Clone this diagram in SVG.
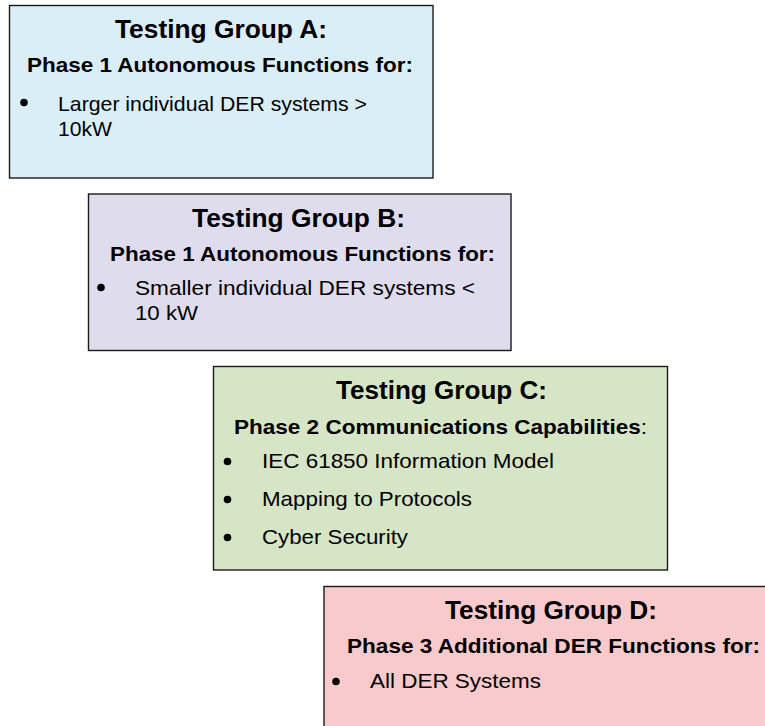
<svg xmlns="http://www.w3.org/2000/svg" width="765" height="726" viewBox="0 0 765 726">
  <style>
    .box { stroke: #1a1a1a; stroke-width: 1.4; }
    .title { font-family: "Liberation Sans", Arial, sans-serif; font-weight: bold; font-size: 25px; fill: #000; }
    .sub { font-family: "Liberation Sans", Arial, sans-serif; font-weight: bold; font-size: 20.5px; fill: #000; }
    .item { font-family: "Liberation Sans", Arial, sans-serif; font-size: 21px; fill: #000; }
    .dot { fill: #000; }
  </style>
  <rect width="765" height="726" fill="#ffffff"/>

  <!-- Testing Group A -->
  <g id="group-a">
    <rect class="box" x="9.5" y="5.5" width="423.5" height="172.5" fill="#DAEEF8"/>
    <text class="title" x="115" y="38.3" textLength="212" lengthAdjust="spacingAndGlyphs">Testing Group A:</text>
    <text class="sub" x="27" y="71.5" textLength="386" lengthAdjust="spacingAndGlyphs">Phase 1 Autonomous Functions for:</text>
    <circle class="dot" cx="24" cy="102.5" r="3.8"/>
    <text class="item" x="58" y="110.5" textLength="309" lengthAdjust="spacingAndGlyphs">Larger individual DER systems &gt;</text>
    <text class="item" x="58" y="135.5" textLength="54" lengthAdjust="spacingAndGlyphs">10kW</text>
  </g>

  <!-- Testing Group B -->
  <g id="group-b">
    <rect class="box" x="88.5" y="194" width="422.5" height="156.5" fill="#DFDCEE"/>
    <text class="title" x="192" y="227" textLength="213" lengthAdjust="spacingAndGlyphs">Testing Group B:</text>
    <text class="sub" x="110" y="260.5" textLength="385" lengthAdjust="spacingAndGlyphs">Phase 1 Autonomous Functions for:</text>
    <circle class="dot" cx="101" cy="287.5" r="3.8"/>
    <text class="item" x="135" y="294.5" textLength="340" lengthAdjust="spacingAndGlyphs">Smaller individual DER systems &lt;</text>
    <text class="item" x="135" y="319.5" textLength="63" lengthAdjust="spacingAndGlyphs">10 kW</text>
  </g>

  <!-- Testing Group C -->
  <g id="group-c">
    <rect class="box" x="213.5" y="366.5" width="454" height="203.5" fill="#D6E5C6"/>
    <text class="title" x="336" y="398.7" textLength="211" lengthAdjust="spacingAndGlyphs">Testing Group C:</text>
    <text class="sub" x="234" y="433.7" textLength="413" lengthAdjust="spacingAndGlyphs">Phase 2 Communications Capabilities<tspan font-weight="normal">:</tspan></text>
    <circle class="dot" cx="227.5" cy="461.5" r="3.8"/>
    <text class="item" x="262" y="468" textLength="292" lengthAdjust="spacingAndGlyphs">IEC 61850 Information Model</text>
    <circle class="dot" cx="227.5" cy="499.5" r="3.8"/>
    <text class="item" x="262" y="506" textLength="210" lengthAdjust="spacingAndGlyphs">Mapping to Protocols</text>
    <circle class="dot" cx="227.5" cy="537.5" r="3.8"/>
    <text class="item" x="262" y="544" textLength="146" lengthAdjust="spacingAndGlyphs">Cyber Security</text>
  </g>

  <!-- Testing Group D (runs past the right and bottom edges) -->
  <g id="group-d">
    <rect class="box" x="324" y="586.5" width="460" height="160" fill="#F8CACB"/>
    <text class="title" x="445" y="618.7" textLength="212" lengthAdjust="spacingAndGlyphs">Testing Group D:</text>
    <text class="sub" x="347" y="652.7" textLength="413" lengthAdjust="spacingAndGlyphs">Phase 3 Additional DER Functions for:</text>
    <circle class="dot" cx="336" cy="681.5" r="3.8"/>
    <text class="item" x="370" y="688" textLength="171" lengthAdjust="spacingAndGlyphs">All DER Systems</text>
  </g>

  <g id="connectors"/>
</svg>
